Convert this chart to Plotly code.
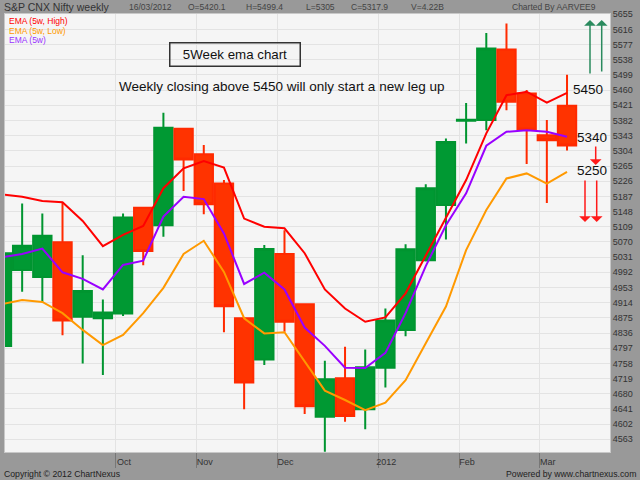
import plotly.graph_objects as go

# ---- data (weekly bars, dated on Friday) ----
weeks = ["2011-09-02", "2011-09-09", "2011-09-16", "2011-09-23", "2011-09-30",
         "2011-10-07", "2011-10-14", "2011-10-21", "2011-10-28",
         "2011-11-04", "2011-11-11", "2011-11-18", "2011-11-25",
         "2011-12-02", "2011-12-09", "2011-12-16", "2011-12-23", "2011-12-30",
         "2012-01-06", "2012-01-13", "2012-01-20", "2012-01-27",
         "2012-02-03", "2012-02-10", "2012-02-17", "2012-02-24",
         "2012-03-02", "2012-03-09", "2012-03-16"]
open_ = [4803, 4998, 4980, 5069, 4878, 4874, 4886, 5158, 5113, 5361, 5295, 5220, 4874, 4768,
         5039, 4910, 4621, 4720, 4640, 4747, 4844, 5023, 5165, 5381, 5383, 5564, 5451, 5344, 5420.1]
high = [5060, 5169, 5143, 5171, 5036, 4922, 5143, 5160, 5402, 5363, 5319, 5229, 4875, 5062,
        5100, 4912, 4765, 4801, 4794, 4899, 5064, 5218, 5336, 5427, 5607, 5631, 5460, 5383, 5499.4]
low = [4770, 4942, 4916, 4830, 4758, 4728, 4880, 5010, 5083, 5201, 5141, 4838, 4640, 4754,
       4839, 4628, 4531, 4608, 4589, 4696, 4828, 5020, 5076, 5323, 5357, 5408, 5270, 5170, 5305]
close = [5041, 5060, 5086, 4868, 4944, 4889, 5133, 5047, 5363, 5282, 5167, 4905, 4709, 5052,
         4865, 4648, 4717, 4623, 4748, 4868, 5051, 5208, 5327, 5384, 5567, 5430, 5359, 5331, 5317.9]
ema_high = [5192, 5186, 5175, 5172, 5124, 5059, 5088, 5111, 5208, 5259, 5278, 5261, 5130, 5109,
            5105, 5041, 4948, 4899, 4865, 4876, 4938, 5036, 5135, 5229, 5349, 5447, 5456, 5428, 5453]
ema_close = [5031, 5039, 5053, 4992, 4975, 4948, 5011, 5022, 5135, 5186, 5180, 5092, 4962, 4991,
             4948, 4850, 4803, 4747, 4746, 4785, 4887, 5008, 5113, 5195, 5317, 5353, 5357, 5353, 5340]
ema_low = [4910, 4921, 4916, 4887, 4844, 4805, 4831, 4887, 4952, 5039, 5073, 4993, 4874, 4835,
           4838, 4762, 4688, 4664, 4638, 4657, 4715, 4810, 4904, 5049, 5152, 5233, 5246, 5220, 5250]
y_ticks = [4563, 4602, 4641, 4680, 4719, 4758, 4797, 4836, 4875, 4914, 4953, 4992, 5031, 5070,
           5109, 5148, 5187, 5226, 5265, 5304, 5343, 5382, 5421, 5460, 5499, 5538, 5577, 5616, 5655]
month_names = {1: "Jan", 2: "Feb", 3: "Mar", 4: "Apr", 5: "May", 6: "Jun", 7: "Jul",
               8: "Aug", 9: "Sep", 10: "Oct", 11: "Nov", 12: "Dec"}

idx = list(range(len(weeks)))
tickvals, ticktext = [], []
for i in range(1, len(weeks)):
    if weeks[i][5:7] != weeks[i - 1][5:7]:
        m = int(weeks[i][5:7])
        tickvals.append(i + 0.65)
        ticktext.append(weeks[i][:4] if m == 1 else month_names[m])

FONT = "Liberation Sans, Arial, sans-serif"
GREEN = "#009933"
RED = "#ff3300"

fig = go.Figure()
fig.add_trace(go.Candlestick(
    x=idx, open=open_, high=high, low=low, close=close,
    increasing=dict(fillcolor=GREEN, line=dict(color="#009530", width=2)),
    decreasing=dict(fillcolor=RED, line=dict(color="#ff2a00", width=2)),
    whiskerwidth=0, showlegend=False, hoverinfo="skip"))
fig.add_trace(go.Scatter(x=idx, y=ema_high, mode="lines",
                         line=dict(color="#ff0000", width=2), showlegend=False))
fig.add_trace(go.Scatter(x=idx, y=ema_low, mode="lines",
                         line=dict(color="#ff9900", width=2), showlegend=False))
fig.add_trace(go.Scatter(x=idx, y=ema_close, mode="lines",
                         line=dict(color="#9900ff", width=2), showlegend=False))

# plot-area pixel frame helper (for annotation placement)
L, R, T, B = 5, 610, 14, 452


def px(x, y):
    return (x - L) / (R - L), (B - y) / (B - T)


ann = []


def text(x, y, s, size, color="#000", xanchor="left", **kw):
    xp, yp = px(x, y)
    ann.append(dict(x=xp, y=yp, xref="paper", yref="paper", text=s, showarrow=False,
                    xanchor=xanchor, yanchor="middle",
                    font=dict(family=FONT, size=size, color=color), **kw))


# header
text(2, 7, "S&P CNX Nifty weekly", 10.5, "#333")
for xx, s in [(127, "16/03/2012"), (186, "O=5420.1"), (244, "H=5499.4"), (304, "L=5305"),
              (349, "C=5317.9"), (409, "V=4.22B")]:
    text(xx, 7, s, 8.5, "#444")
text(598, 7, "Charted By AARVEE9", 8.5, "#444", xanchor="right")
# legend-like labels
text(7, 21, "EMA (5w, High)", 8.5, "#ff0000")
text(7, 30.5, "EMA (5w, Low)", 8.5, "#ff9900")
text(7, 40, "EMA (5w)", 8.5, "#9933ff")
# footer
text(2, 474, "Copyright © 2012 ChartNexus", 8.7, "#222")
text(638, 474, "Powered by www.chartnexus.com", 8.7, "#222", xanchor="right")
# chart notes
text(234.5, 54.3, "5Week ema chart", 13.3, "#111", xanchor="center",
     bordercolor="#333", borderwidth=1.5, borderpad=1, width=127, height=20)
text(281.7, 86, "Weekly closing above 5450 will only start a new leg up", 13.5, "#111",
     xanchor="center")
text(587.5, 89, "5450", 13.5, "#111", xanchor="center")
text(592, 137.7, "5340", 13.5, "#111", xanchor="center")
text(591.5, 171, "5250", 13.5, "#111", xanchor="center")


def arrow(x, y_tail, y_head, color):
    xp, yp = px(x, y_head)
    ann.append(dict(x=xp, y=yp, xref="paper", yref="paper", text="", showarrow=True,
                    ax=0, ay=y_tail - y_head, arrowhead=1, arrowsize=1.3, arrowwidth=1.5,
                    arrowcolor=color, standoff=0))


arrow(590, 75, 20, "#2a8a5e")
arrow(601.7, 73, 20, "#2a8a5e")
arrow(595.7, 145, 165, "#ff1a1a")
arrow(585, 179, 222, "#ff1a1a")
arrow(596.7, 179, 222, "#ff1a1a")

fig.update_layout(
    width=640, height=480,
    margin=dict(l=L, r=640 - R, t=T, b=480 - B),
    paper_bgcolor="#999999", plot_bgcolor="#f5f5f5",
    boxgap=0.09, boxgroupgap=0,
    font=dict(family=FONT, size=9, color="#333"),
    annotations=ann,
    xaxis=dict(range=[0.15, 30.13], tickmode="array", tickvals=tickvals, ticktext=ticktext,
               showgrid=True, gridcolor="#e3e3e3", gridwidth=1, zeroline=False,
               ticks="outside", ticklen=15, tickcolor="#777", tickwidth=1,
               ticklabelshift=8, ticklabelstandoff=-14,
               tickfont=dict(family=FONT, size=9, color="#333"),
               showline=True, mirror=True, linecolor="#c8c8c8", linewidth=1,
               rangeslider=dict(visible=False), fixedrange=True),
    yaxis=dict(range=[4530.4, 5655.5], side="right", tickmode="array", tickvals=y_ticks,
               showgrid=True, gridcolor="#e3e3e3", gridwidth=1, zeroline=False, ticks="",
               tickfont=dict(family=FONT, size=9, color="#333"),
               showline=True, mirror=True, linecolor="#c8c8c8", linewidth=1, fixedrange=True),
    hovermode=False,
)
fig.write_html("out.html", config={"displayModeBar": False},
               post_script="document.body.style.margin='0';document.body.style.overflow='hidden';")
